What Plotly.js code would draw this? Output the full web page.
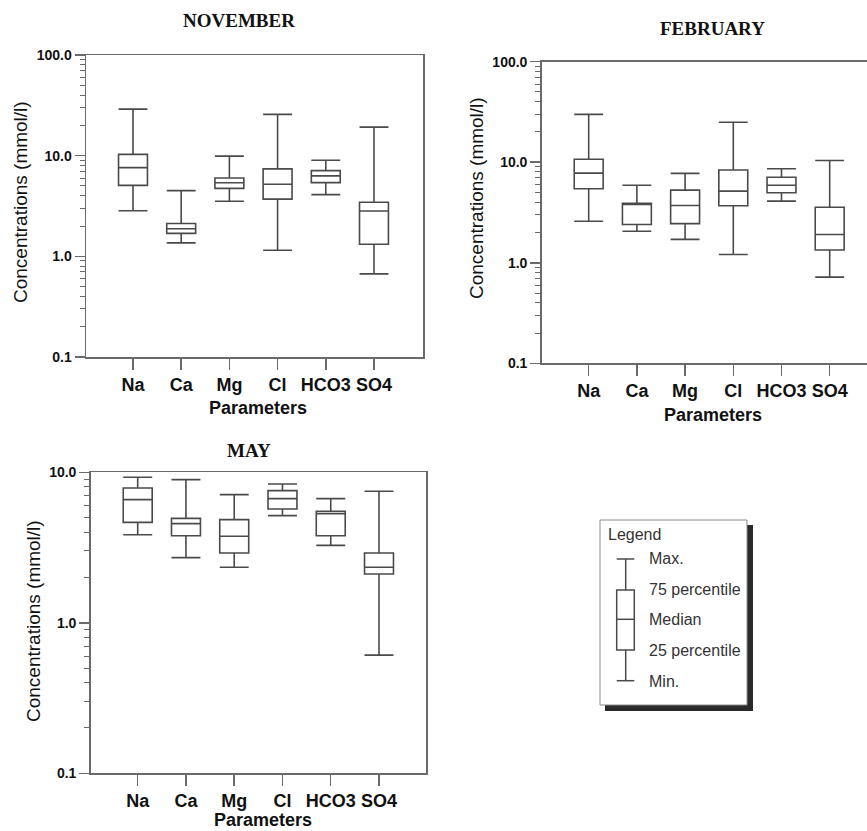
<!DOCTYPE html>
<html>
<head>
<meta charset="utf-8">
<script src="https://cdn.plot.ly/plotly-3.0.1.min.js"></script>
<style>
  html, body { margin: 0; padding: 0; background: #ffffff; }
  #chart { width: 867px; height: 831px; }
</style>
</head>
<body>
<div id="chart"></div>
<script>
// ---------- DATA (mmol/l) ----------
const categories = ['Na', 'Ca', 'Mg', 'Cl', 'HCO3', 'SO4'];

const novMin = [2.84, 1.36, 3.52, 1.15, 4.1, 0.67];
const novQ1  = [5.07, 1.69, 4.73, 3.7, 5.4, 1.32];
const novMed = [7.6, 1.88, 5.38, 5.2, 6.3, 2.82];
const novQ3  = [10.3, 2.12, 6.0, 7.4, 7.1, 3.44];
const novMax = [29, 4.5, 9.9, 25.7, 9.0, 19.2];

const febMin = [2.59, 2.06, 1.71, 1.21, 4.1, 0.72];
const febQ1  = [5.45, 2.40, 2.45, 3.69, 4.97, 1.34];
const febMed = [7.8, 3.8, 3.71, 5.16, 5.9, 1.91];
const febQ3  = [10.7, 3.9, 5.28, 8.36, 7.1, 3.57];
const febMax = [29.9, 5.9, 7.75, 25.0, 8.6, 10.4];

const mayMin = [3.85, 2.71, 2.34, 5.15, 3.27, 0.61];
const mayQ1  = [4.65, 3.79, 2.91, 5.70, 3.79, 2.11];
const mayMed = [6.58, 4.56, 3.76, 6.68, 5.3, 2.34];
const mayQ3  = [7.87, 4.94, 4.85, 7.55, 5.5, 2.91];
const mayMax = [9.27, 8.94, 7.11, 8.36, 6.68, 7.48];

const panelTitles = ['NOVEMBER', 'FEBRUARY', 'MAY'];
const yTickVals = [0.1, 1, 10, 100];
const yTickText = ['0.1', '1.0', '10.0', '100.0'];
const legendLabels = ['Max.', '75 percentile', 'Median', '25 percentile', 'Min.'];

// ---------- STYLE ----------
const W = 867, H = 831;
const fx = p => p / W;
const fy = p => 1 - p / H;
const boxColor = '#4a4a4a';
const axisColor = '#6a6a6a';
const sans = 'Liberation Sans, Arial, Helvetica, sans-serif';
const serif = 'Liberation Serif, Times New Roman, serif';

const minorVals = [];
[0.1, 1, 10].forEach(d => { for (let k = 2; k <= 9; k++) minorVals.push(d * k); });

function boxTrace(q1, med, q3, lo, hi, xa, ya) {
  return {
    type: 'box', x: categories, q1: q1, median: med, q3: q3,
    lowerfence: lo, upperfence: hi, xaxis: xa, yaxis: ya,
    width: 0.6, whiskerwidth: 1, boxpoints: false,
    fillcolor: 'rgba(255,255,255,0)',
    line: { color: boxColor, width: 1.6 },
    showlegend: false, hoverinfo: 'y'
  };
}

function xAxis(domain, range, anchor) {
  return {
    domain: domain, range: range, type: 'category', anchor: anchor,
    showline: true, mirror: true, linecolor: axisColor, linewidth: 1.5,
    ticks: 'outside', ticklen: 11, tickwidth: 1.5, tickcolor: axisColor,
    tickfont: { family: sans, size: 18, weight: 'bold', color: '#111' },
    showgrid: false, zeroline: false, fixedrange: true
  };
}

function yAxis(domain, range, anchor, mirror) {
  return {
    domain: domain, range: range, type: 'log', anchor: anchor,
    tickmode: 'array', tickvals: yTickVals, ticktext: yTickText,
    showline: true, mirror: mirror, linecolor: axisColor, linewidth: 1.5,
    ticks: 'outside', ticklen: 10, tickwidth: 1.5, tickcolor: axisColor,
    minor: { tickmode: 'array', tickvals: minorVals, ticks: 'outside', ticklen: 5,
             tickwidth: 1, tickcolor: axisColor, showgrid: false },
    tickfont: { family: sans, size: 14, weight: 'bold', color: '#111' },
    showgrid: false, zeroline: false, fixedrange: true
  };
}

const data = [
  boxTrace(novQ1, novMed, novQ3, novMin, novMax, 'x', 'y'),
  boxTrace(febQ1, febMed, febQ3, febMin, febMax, 'x2', 'y2'),
  boxTrace(mayQ1, mayMed, mayQ3, mayMin, mayMax, 'x3', 'y3')
];

function ann(text, x, y, font, opts) {
  return Object.assign({
    text: text, x: fx(x), y: fy(y), xref: 'paper', yref: 'paper',
    showarrow: false, xanchor: 'center', yanchor: 'middle', font: font
  }, opts || {});
}

const titleFont = { family: serif, size: 19, weight: 'bold', color: '#111' };
const paramFont = { family: sans, size: 18, weight: 'bold', color: '#111' };
const yTitleFont = { family: sans, size: 19, color: '#111' };
const legFont = { family: sans, size: 16, color: '#333' };

const annotations = [
  ann(panelTitles[0], 239, 20, titleFont),
  ann(panelTitles[1], 712, 29, titleFont),
  ann(panelTitles[2], 249, 450, titleFont),
  ann('Parameters', 258, 408, paramFont),
  ann('Parameters', 713, 415, paramFont),
  ann('Parameters', 263, 820, paramFont),
  ann('Concentrations (mmol/l)', 21, 202, yTitleFont, { textangle: -90 }),
  ann('Concentrations (mmol/l)', 476, 198, yTitleFont, { textangle: -90 }),
  ann('Concentrations (mmol/l)', 33, 621, yTitleFont, { textangle: -90 }),
  ann('Legend', 606, 534, legFont, { xanchor: 'left' })
];
const legY = [558.5, 589.5, 619.5, 650, 681.5];
legendLabels.forEach((t, i) => annotations.push(ann(t, 647, legY[i], legFont, { xanchor: 'left' })));

function pline(x0, y0, x1, y1, color, w) {
  return { type: 'line', xref: 'paper', yref: 'paper', x0: fx(x0), y0: fy(y0), x1: fx(x1), y1: fy(y1),
           line: { color: color, width: w } };
}
function prect(x0, y0, x1, y1, fill, color, w) {
  return { type: 'rect', xref: 'paper', yref: 'paper', x0: fx(x0), y0: fy(y0), x1: fx(x1), y1: fy(y1),
           fillcolor: fill, line: { color: color, width: w } };
}

const shapes = [
  prect(605, 525, 753, 711, '#2a2a2a', '#2a2a2a', 0),
  prect(600, 520, 747, 705, '#ffffff', '#8a8a8a', 1),
  pline(625.7, 559, 625.7, 590, boxColor, 1.5),
  pline(625.7, 650, 625.7, 680.7, boxColor, 1.5),
  pline(616.7, 559, 634.3, 559, boxColor, 1.5),
  pline(616.7, 680.7, 634.3, 680.7, boxColor, 1.5),
  prect(616.7, 590, 634.3, 650, 'rgba(0,0,0,0)', boxColor, 1.5),
  pline(616.7, 619.3, 634.3, 619.3, boxColor, 1.5)
];

const layout = {
  width: W, height: H,
  margin: { l: 0, r: 0, t: 0, b: 0, pad: 0 },
  paper_bgcolor: '#ffffff', plot_bgcolor: '#ffffff',
  showlegend: false,
  xaxis: xAxis([fx(86), fx(423)], [-0.975, 6.017], 'y'),
  yaxis: yAxis([fy(357), fy(55)], [-1, 2], 'x', true),
  xaxis2: xAxis([fx(541.7), 1], [-0.975, 5.774], 'y2'),
  yaxis2: yAxis([fy(363.3), fy(61.7)], [-1, 2], 'x2', false),
  xaxis3: xAxis([fx(90.7), fx(426)], [-0.974, 5.974], 'y3'),
  yaxis3: yAxis([fy(773.3), fy(472.3)], [-1, 1], 'x3', true),
  annotations: annotations,
  shapes: shapes
};

Plotly.newPlot('chart', data, layout, { displayModeBar: false, staticPlot: true });
</script>
</body>
</html>
